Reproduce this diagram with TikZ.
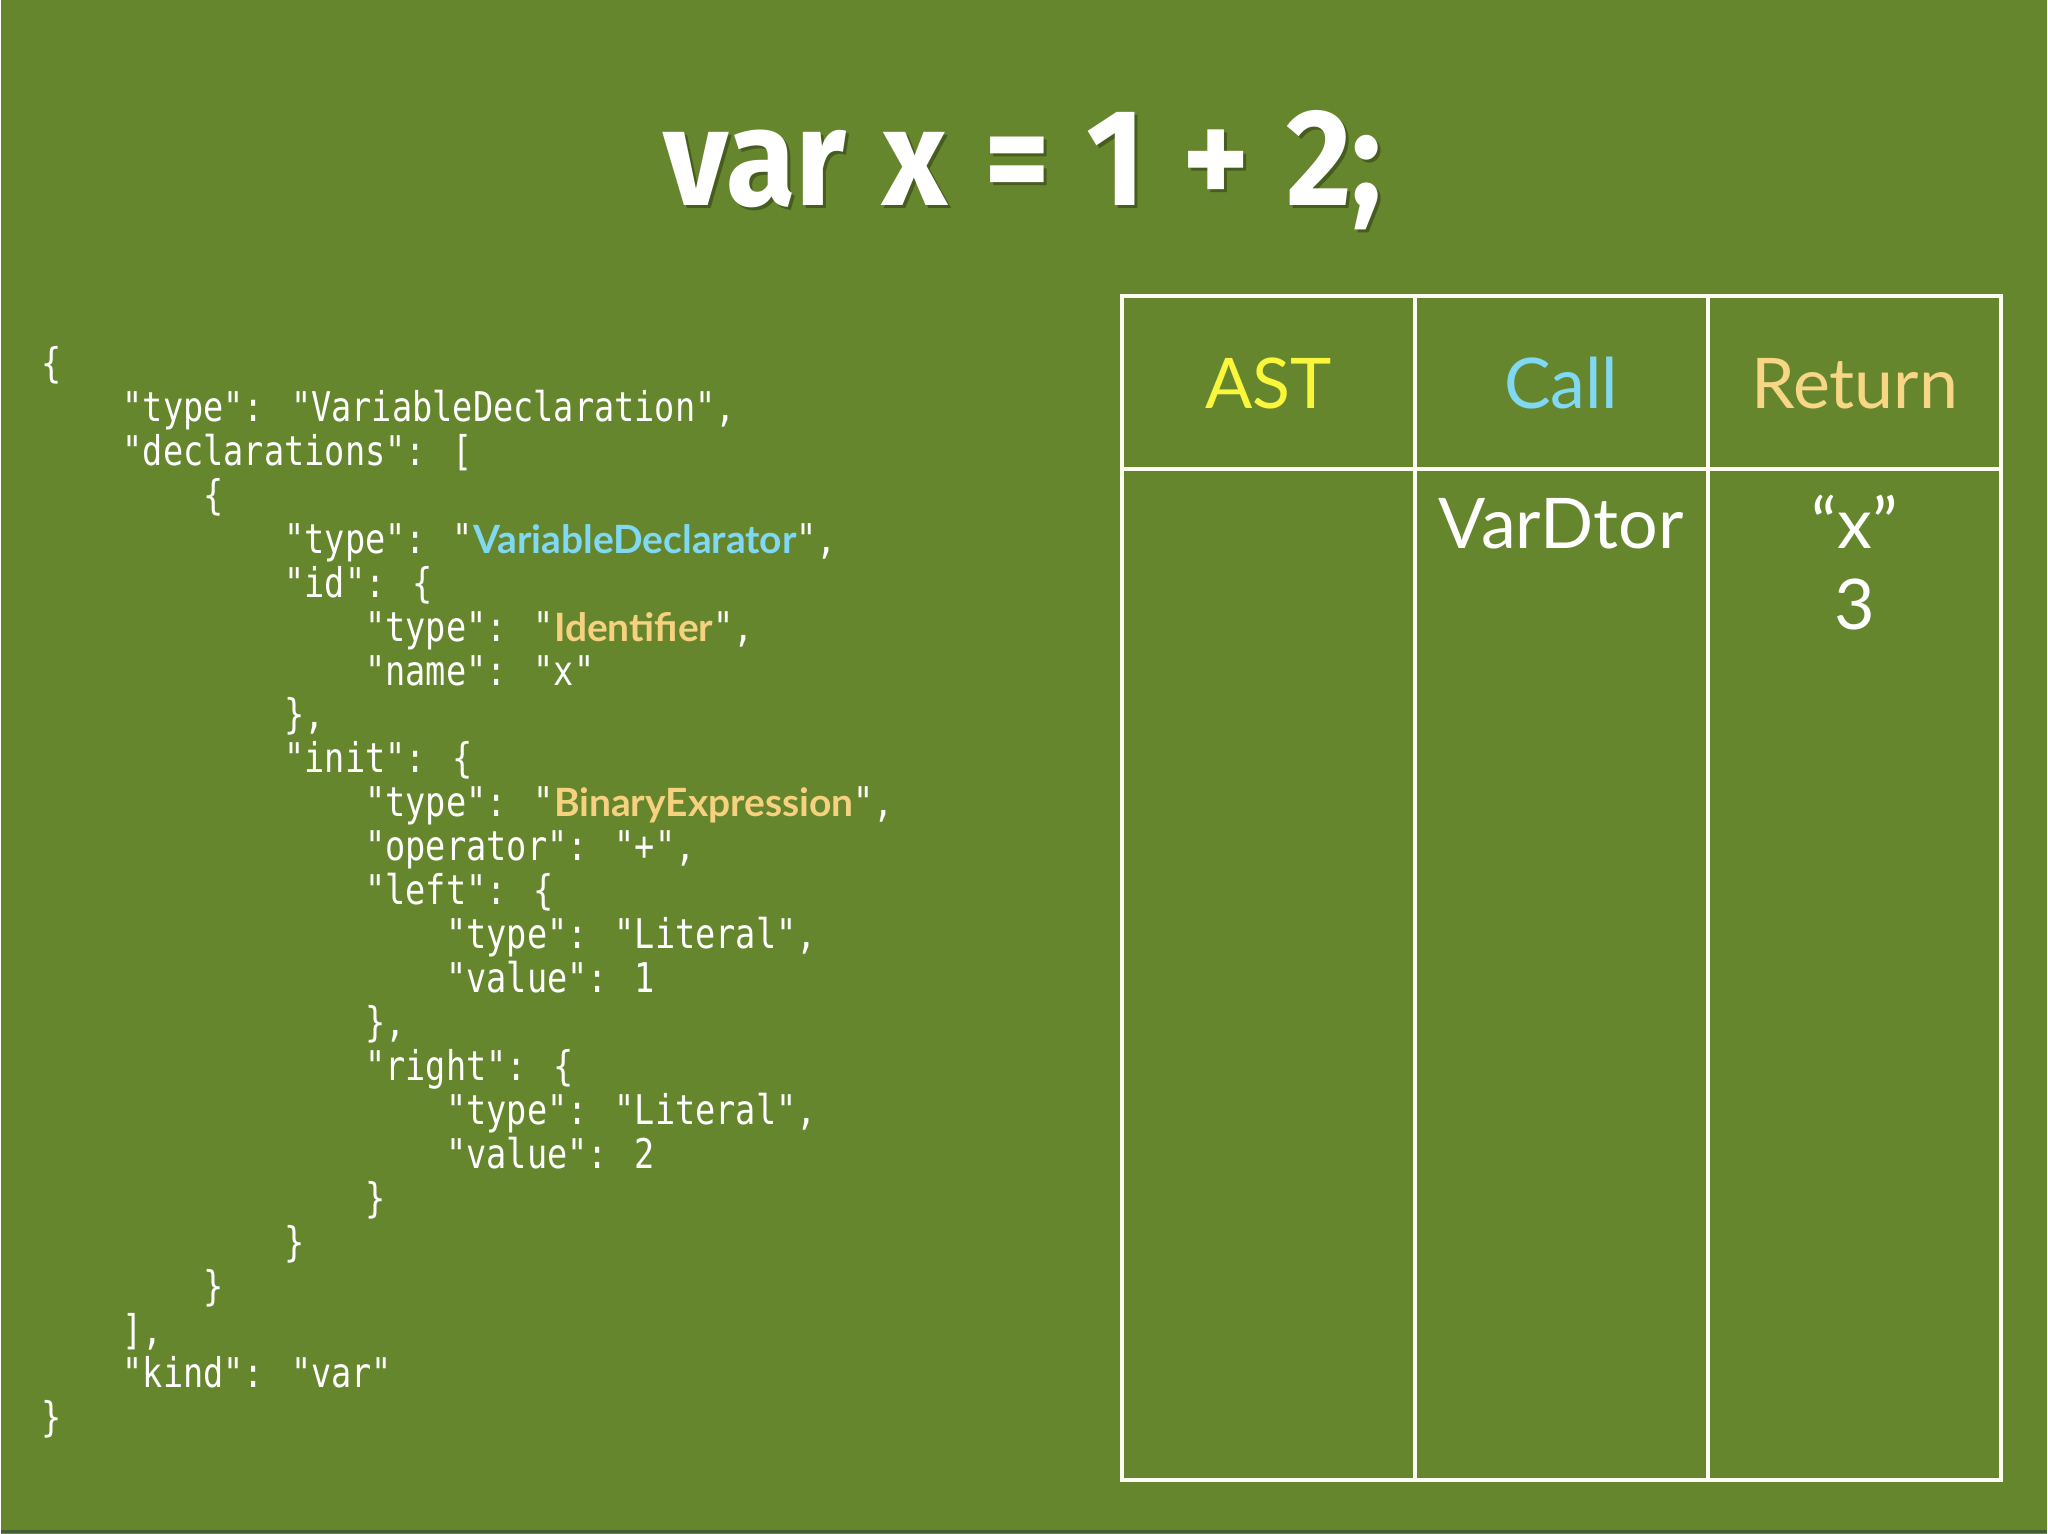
\documentclass[tikz,border=0pt]{standalone}
\usepackage{fontspec}
\newfontfamily\codefont[FakeStretch=0.82]{DejaVu Sans Mono}
\newfontfamily\hlfont{Lato}
\newfontfamily\tabfont{Lato}
\newfontfamily\titlefont[FakeStretch=0.92,WordSpace=1.22]{Fira Sans}
\definecolor{bg}{RGB}{102,134,46}
\definecolor{bgdark}{RGB}{70,92,52}
\definecolor{hlcyan}{RGB}{128,216,242}
\definecolor{hlorange}{RGB}{246,210,128}
\definecolor{astyellow}{RGB}{250,246,60}
\definecolor{callcyan}{RGB}{128,216,242}
\definecolor{retorange}{RGB}{247,214,134}
\definecolor{gridwhite}{RGB}{252,252,242}
\begin{document}
\begin{tikzpicture}[x=0.5pt,y=-0.5pt,
  codeline/.style={anchor=base west,inner sep=0pt,text=white,font=\codefont\fontsize{20.5pt}{22pt}\selectfont},
  hdr/.style={anchor=base,inner sep=0pt,font=\tabfont\fontsize{35pt}{40pt}\selectfont},
  cell/.style={anchor=base,inner sep=0pt,text=white,font=\tabfont\fontsize{35pt}{40pt}\selectfont},
  grid/.style={draw=gridwhite,line width=2pt}]
\newcommand\hlc[1]{{\hlfont\bfseries\fontsize{19.5pt}{22pt}\selectfont\color{hlcyan}#1}}
\newcommand\hlo[1]{{\hlfont\bfseries\fontsize{19.5pt}{22pt}\selectfont\color{hlorange}#1}}
% background
\fill[bg] (0,0) rectangle (2048,1536);
\draw[bgdark,line width=1.5pt] (0,1534) -- (2048,1534);
\useasboundingbox (0,0) rectangle (2048,1536);
% title
\node[anchor=base,inner sep=0pt,text=black,opacity=0.3,font=\titlefont\bfseries\fontsize{69pt}{75pt}\selectfont] (titleshadow) at (1026,209) {var x = 1 + 2;};
\node[anchor=base,inner sep=0pt,text=white,font=\titlefont\bfseries\fontsize{69pt}{75pt}\selectfont] (title) at (1023,206) {var x = 1 + 2;};
% code
\node[codeline] (l0)  at (40,378)  {\{};
\node[codeline] (l1)  at (121,422) {"type": "VariableDeclaration",};
\node[codeline] (l2)  at (121,466) {"declarations": [};
\node[codeline] (l3)  at (202,510) {\{};
\node[codeline] (l4)  at (283,554) {"type": "\hlc{VariableDeclarator}",};
\node[codeline] (l5)  at (283,598) {"id": \{};
\node[codeline] (l6)  at (364,642) {"type": "\hlo{Identifier}",};
\node[codeline] (l7)  at (364,686) {"name": "x"};
\node[codeline] (l8)  at (283,730) {\},};
\node[codeline] (l9)  at (283,774) {"init": \{};
\node[codeline] (l10) at (364,818) {"type": "\hlo{BinaryExpression}",};
\node[codeline] (l11) at (364,862) {"operator": "+",};
\node[codeline] (l12) at (364,906) {"left": \{};
\node[codeline] (l13) at (445,950) {"type": "Literal",};
\node[codeline] (l14) at (445,994) {"value": 1};
\node[codeline] (l15) at (364,1038) {\},};
\node[codeline] (l16) at (364,1082) {"right": \{};
\node[codeline] (l17) at (445,1126) {"type": "Literal",};
\node[codeline] (l18) at (445,1170) {"value": 2};
\node[codeline] (l19) at (364,1214) {\}};
\node[codeline] (l20) at (283,1258) {\}};
\node[codeline] (l21) at (202,1302) {\}};
\node[codeline] (l22) at (121,1346) {],};
\node[codeline] (l23) at (121,1390) {"kind": "var"};
\node[codeline] (l24) at (40,1434) {\}};
% table grid
\draw[grid] (1122,296) rectangle (2002,1482);
\draw[grid] (1416,296) -- (1416,1482);
\draw[grid] (1709,296) -- (1709,1482);
\draw[grid] (1122,470) -- (2002,470);
% headers
\node[hdr,text=astyellow] (hast) at (1269,409) {AST};
\node[hdr,text=callcyan] (hcall) at (1562,409) {Call};
\node[hdr,text=retorange] (hret) at (1856,409) {Return};
% cells
\node[cell] (c1) at (1562,549) {VarDtor};
\node[cell] (r1) at (1856,549) {“x”};
\node[cell] (r2) at (1856,630) {3};
\end{tikzpicture}
\end{document}
